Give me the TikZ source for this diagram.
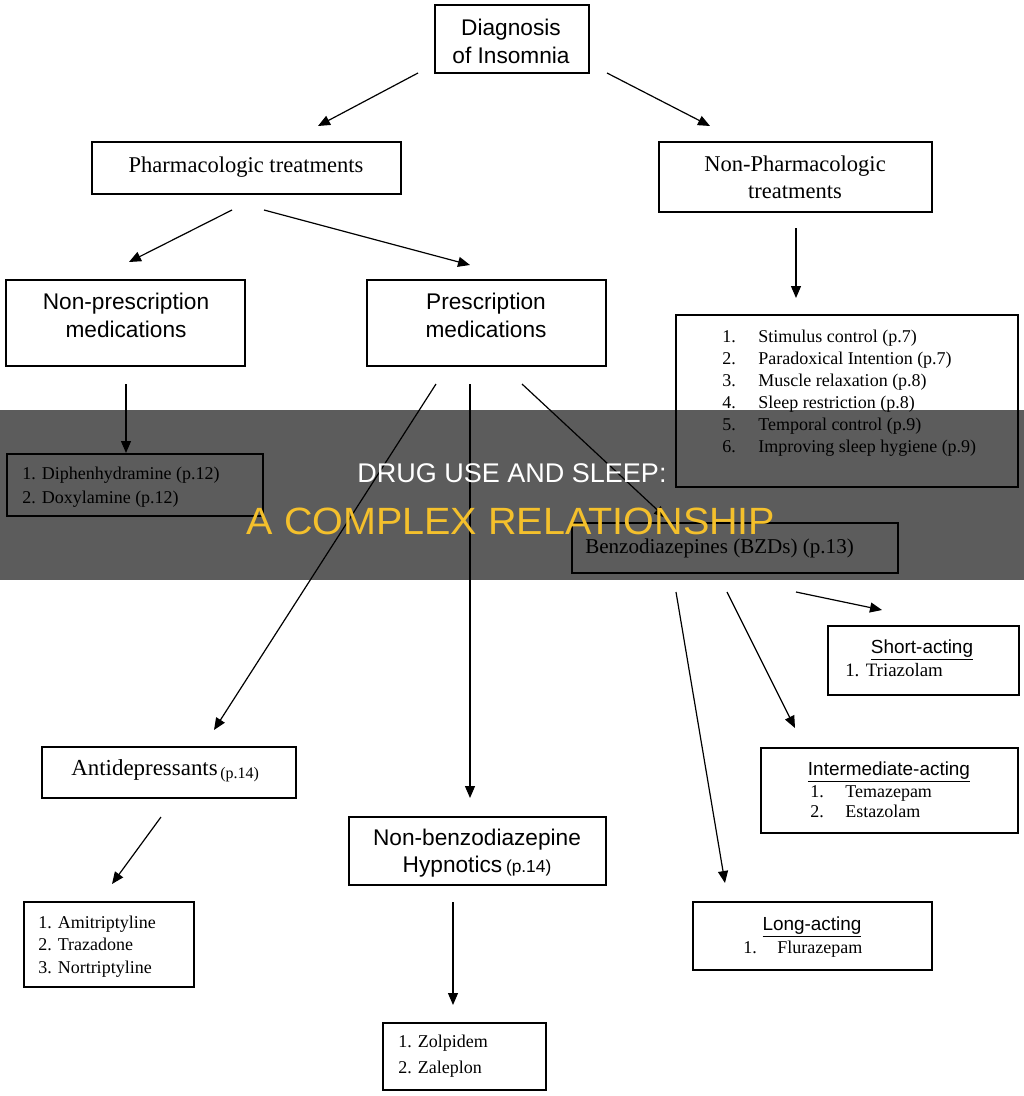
\documentclass[tikz,border=0pt]{standalone}
\usepackage{fontspec}
\setmainfont{Liberation Serif}
\setsansfont{Liberation Sans}
\newfontfamily\bannerwide{Liberation Sans}[FakeStretch=1.04]
\usetikzlibrary{arrows.meta}
\definecolor{banneryellow}{RGB}{244,192,44}
\newcommand{\mybox}[5]{\node[boxstyle, minimum width={0.75pt*(#4-#2)}, minimum height={0.75pt*(#5-#3)}] (#1) at ({(#2+#4)/2},{(#3+#5)/2}) {};}
\begin{document}
\begin{tikzpicture}[x=0.75pt,y=-0.75pt,
  boxstyle/.style={draw=black, line width=1.3pt, inner sep=0pt, fill=none},
  arr/.style={line width=0.9pt, -{Triangle[length=9pt,width=7.5pt]}},
  sansmain/.style={font=\sffamily\fontsize{17}{20}\selectfont, inner sep=0pt, anchor=base},
  serifmain/.style={font=\rmfamily\fontsize{16.9}{20}\selectfont, inner sep=0pt, anchor=base},
  listtxt/.style={font=\rmfamily\fontsize{13.5}{16}\selectfont, inner sep=0pt, anchor=base west},
  subhead/.style={font=\sffamily\fontsize{14.2}{16}\selectfont, inner sep=0pt, anchor=base},
  smalltxt/.style={font=\rmfamily\fontsize{12}{14}\selectfont, inner sep=0pt, anchor=base west}
]
\useasboundingbox (0,0) rectangle (1024,1096);
\fill[white] (0,0) rectangle (1024,1096);

% boxes
\mybox{diag}{435}{5}{589}{73}
\mybox{pharm}{92}{142}{401}{194}
\mybox{nonpharm}{659}{142}{932}{212}
\mybox{nonpres}{6}{280}{245}{366}
\mybox{pres}{367}{280}{606}{366}
\mybox{nplist}{676}{315}{1018}{487}
\mybox{otc}{7}{454}{263}{516}
\mybox{bzd}{572}{523}{898}{573}
\mybox{short}{828}{626}{1019}{695}
\mybox{antid}{42}{747}{296}{798}
\mybox{adlist}{24}{902}{194}{987}
\mybox{nonbenzo}{349}{817}{606}{885}
\mybox{zlist}{383}{1023}{546}{1090}
\mybox{inter}{761}{748}{1018}{833}
\mybox{long}{693}{902}{932}{970}

% texts
\node[sansmain] (tdiag1) at (511,35) {Diagnosis};
\node[sansmain] (tdiag2) at (511,63) {of Insomnia};
\node[serifmain] (tpharm) at (246,172) {Pharmacologic treatments};
\node[serifmain] (tnp1) at (795,171) {Non-Pharmacologic};
\node[serifmain] (tnp2) at (795,198) {treatments};
\node[sansmain] (tnpr1) at (126,309) {Non-prescription};
\node[sansmain] (tnpr2) at (126,337) {medications};
\node[sansmain] (tpr1) at (486,309) {Prescription};
\node[sansmain] (tpr2) at (486,337) {medications};

\node[listtxt] (l1n) at (722,342) {1.};
\node[listtxt] (l1t) at (758,342) {Stimulus control (p.7)};
\node[listtxt] (l2n) at (722,364) {2.};
\node[listtxt] (l2t) at (758,364) {Paradoxical Intention (p.7)};
\node[listtxt] (l3n) at (722,386) {3.};
\node[listtxt] (l3t) at (758,386) {Muscle relaxation (p.8)};
\node[listtxt] (l4n) at (722,408) {4.};
\node[listtxt] (l4t) at (758,408) {Sleep restriction (p.8)};
\node[listtxt] (l5n) at (722,430) {5.};
\node[listtxt] (l5t) at (758,430) {Temporal control (p.9)};
\node[listtxt] (l6n) at (722,452) {6.};
\node[listtxt] (l6t) at (758,452) {Improving sleep hygiene (p.9)};

\node[listtxt] (o1) at (22,479) {1. Diphenhydramine (p.12)};
\node[listtxt] (o2) at (22,503) {2. Doxylamine (p.12)};

\node[listtxt, font=\rmfamily\fontsize{15.8}{18}\selectfont] (tbzd) at (585,553) {Benzodiazepines (BZDs) (p.13)};

\node[subhead] (tshort) at (922,653) {\underline{Short-acting}};
\node[listtxt, font=\rmfamily\fontsize{14.2}{16}\selectfont] (s1) at (845,676) {1. Triazolam};

\node[listtxt, font=\rmfamily\fontsize{17.2}{19}\selectfont] (tanti) at (71,775) {Antidepressants};
\node[smalltxt] (tanti2) at (220,778) {(p.14)};

\node[listtxt] (a1) at (38,928) {1. Amitriptyline};
\node[listtxt] (a2) at (38,950) {2. Trazadone};
\node[listtxt] (a3) at (38,973) {3. Nortriptyline};

\node[sansmain] (tnb1) at (477,845) {Non-benzodiazepine};
\node[sansmain] (tnb2) at (477,872) {Hypnotics\,{\fontsize{13}{15}\selectfont(p.14)}};

\node[listtxt] (z1) at (398,1047) {1. Zolpidem};
\node[listtxt] (z2) at (398,1073) {2. Zaleplon};

\node[subhead] (tinter) at (889,775) {\underline{Intermediate-acting}};
\node[listtxt] (i1n) at (810,797) {1.};
\node[listtxt] (i1t) at (845,797) {Temazepam};
\node[listtxt] (i2n) at (810,817) {2.};
\node[listtxt] (i2t) at (845,817) {Estazolam};

\node[subhead] (tlong) at (812,930) {\underline{Long-acting}};
\node[listtxt] (g1n) at (743,953) {1.};
\node[listtxt] (g1t) at (777,953) {Flurazepam};

% connector end points
\coordinate (c1s) at (418,73);  \coordinate (c1e) at (318,126);
\coordinate (c2s) at (607,73);  \coordinate (c2e) at (710,126);
\coordinate (c3s) at (232,210); \coordinate (c3e) at (129,262);
\coordinate (c4s) at (264,210); \coordinate (c4e) at (470,265);
\coordinate (c5s) at (796,228); \coordinate (c5e) at (796,298);
\coordinate (c6s) at (126,384); \coordinate (c6e) at (126,453);
\coordinate (c7s) at (436,384); \coordinate (c7e) at (214,730);
\coordinate (c8s) at (470,384); \coordinate (c8e) at (470,798);
\coordinate (c9s) at (522,384); \coordinate (c9e) at (666,518);
\coordinate (c10s) at (453,902); \coordinate (c10e) at (453,1005);
\coordinate (c11s) at (161,817); \coordinate (c11e) at (112,884);
\coordinate (c12s) at (796,592); \coordinate (c12e) at (882,610);
\coordinate (c13s) at (727,592); \coordinate (c13e) at (795,728);
\coordinate (c14s) at (676,592); \coordinate (c14e) at (725,883);

\draw[arr] (c1s) -- (c1e);
\draw[arr] (c2s) -- (c2e);
\draw[arr] (c3s) -- (c3e);
\draw[arr] (c4s) -- (c4e);
\draw[arr] (c5s) -- (c5e);
\draw[arr] (c6s) -- (c6e);
\draw[arr] (c7s) -- (c7e);
\draw[arr] (c8s) -- (c8e);
\draw[arr] (c9s) -- (c9e);
\draw[arr] (c10s) -- (c10e);
\draw[arr] (c11s) -- (c11e);
\draw[arr] (c12s) -- (c12e);
\draw[arr] (c13s) -- (c13e);
\draw[arr] (c14s) -- (c14e);

% banner overlay
\fill[black, fill opacity=0.64] (0,410) rectangle (1024,580);
\node[font=\sffamily\fontsize{20.25}{24}\selectfont, text=white, inner sep=0pt, anchor=base] (ban1) at (512,482) {DRUG USE AND SLEEP:};
\node[font=\bannerwide\fontsize{28.5}{32}\selectfont, text=banneryellow, inner sep=0pt, anchor=base] (ban2) at (511,534) {A COMPLEX RELATIONSHIP};
\end{tikzpicture}
\end{document}
